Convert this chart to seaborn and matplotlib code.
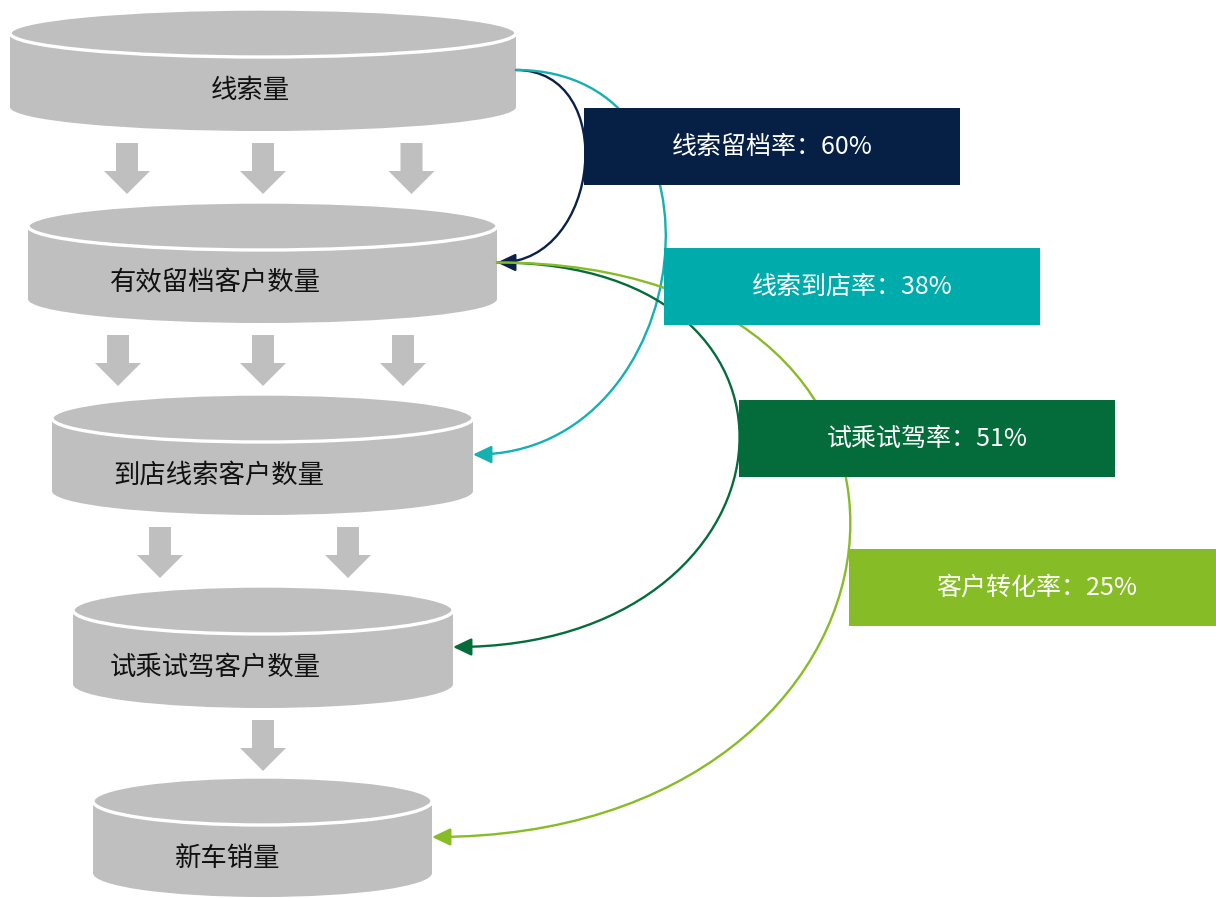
import matplotlib
matplotlib.use("Agg")
import matplotlib.pyplot as plt
import seaborn as sns
from matplotlib.patches import Rectangle, Ellipse, FancyArrow, FancyArrowPatch
from matplotlib.path import Path

# ---------------- data ----------------
stages = ["线索量", "有效留档客户数量", "到店线索客户数量", "试乘试驾客户数量", "新车销量"]
rate_names = ["线索留档率", "线索到店率", "试乘试驾率", "客户转化率"]
rate_values = [60, 38, 51, 25]
rate_source = [0, 0, 1, 1]
rate_target = [1, 2, 3, 4]
box_colors = ["#061F44", "#00ABAB", "#046C3A", "#86BC25"]
curve_colors = ["#0A2249", "#15B0B1", "#056D3B", "#88BC27"]

# ---------------- layout (pixels) ----------------
cyl_cx = [263, 262.5, 262.5, 263, 262.5]
cyl_half_w = [253, 234.5, 210.5, 190, 169.5]
cyl_top = [33, 226, 418, 610, 801]
cyl_bot = [107, 299, 491, 684, 873]
cyl_rim = 24
label_x = [250, 215, 219, 215, 228]
label_dy = 57
flow_arrow_x = [[127, 263, 411.5], [118, 263, 403], [160, 348], [263]]
box_x = [584, 664, 739, 849]
box_y = [108, 248, 400, 549]
box_w, box_h = 376, 77
curve_reach = [104, 226, 351, 512]

GRAY = "#BFBFBF"
W, H = 1216, 898

sns.set_theme(style="white")
plt.rcParams["font.family"] = ["Noto Sans CJK SC", "DejaVu Sans"]

fig = plt.figure(figsize=(W / 100, H / 100), dpi=100)
ax = fig.add_axes([0, 0, 1, 1])
ax.set_xlim(0, W)
ax.set_ylim(H, 0)
ax.axis("off")

# cylinders
for i, name in enumerate(stages):
    cx, w, yt, yb = cyl_cx[i], cyl_half_w[i], cyl_top[i], cyl_bot[i]
    ax.add_patch(Rectangle((cx - w, yt), 2 * w, yb - yt, facecolor=GRAY,
                           edgecolor="none", zorder=1))
    ax.add_patch(Ellipse((cx, yb), 2 * w, 2 * cyl_rim, facecolor=GRAY,
                         edgecolor="none", zorder=1))
    ax.add_patch(Ellipse((cx, yt), 2 * w, 2 * cyl_rim, facecolor=GRAY,
                         edgecolor="white", lw=2.4, zorder=1.5))
    ax.text(label_x[i], yt + label_dy, name, ha="center", va="center",
            fontsize=19, color="#111111", zorder=5)

# grey block arrows between stages
for i, xs in enumerate(flow_arrow_x):
    y0 = cyl_bot[i] + cyl_rim + 12
    for x in xs:
        ax.add_patch(FancyArrow(x, y0, 0, 51, width=22, head_width=46,
                                head_length=23, length_includes_head=True,
                                facecolor=GRAY, edgecolor="none", zorder=1))

# conversion curves
for j in range(len(rate_names)):
    s, t = rate_source[j], rate_target[j]
    p0 = (cyl_cx[s] + cyl_half_w[s], (cyl_top[s] + cyl_bot[s]) / 2)
    p3 = (cyl_cx[t] + cyl_half_w[t], (cyl_top[t] + cyl_bot[t]) / 2)
    k = curve_reach[j]
    verts = [p0, (p0[0] + k, p0[1]), (p3[0] + k, p3[1]), p3]
    codes = [Path.MOVETO, Path.CURVE4, Path.CURVE4, Path.CURVE4]
    ax.add_patch(FancyArrowPatch(path=Path(verts, codes),
                                 arrowstyle="-|>,head_length=0.8,head_width=0.38",
                                 mutation_scale=14, color=curve_colors[j],
                                 lw=1.7, zorder=2))

# rate boxes
for j, (name, v) in enumerate(zip(rate_names, rate_values)):
    ax.add_patch(Rectangle((box_x[j], box_y[j]), box_w, box_h,
                           facecolor=box_colors[j], edgecolor="none", zorder=3))
    ax.text(box_x[j] + box_w / 2, box_y[j] + box_h / 2, f"{name}：{v}%",
            ha="center", va="center", fontsize=18, color="white", zorder=4)

fig.savefig("out.png", dpi=100)
